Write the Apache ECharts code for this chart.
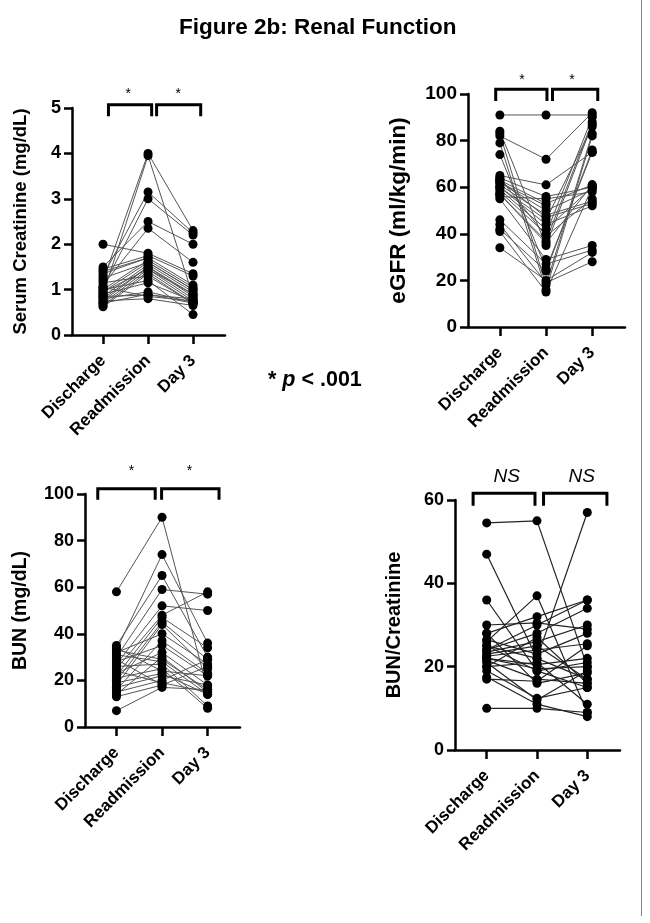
<!DOCTYPE html>
<html><head><meta charset="utf-8">
<script src="https://cdn.jsdelivr.net/npm/echarts@6/dist/echarts.min.js"></script>
<style>html,body{margin:0;padding:0;background:#fff}#c{width:650px;height:923px}</style>
</head><body><div id="c"></div>
<script>
// ---------- data ----------
const categories = ['Discharge', 'Readmission', 'Day 3'];

// Serum creatinine (mg/dL), one entry per patient
const creatDischarge   = [1.2, 0.9, 1.3, 1.05, 1.5, 1.1, 2.0, 1.45, 1.4, 1.0, 0.95, 0.85, 0.8, 0.75, 0.7, 0.65, 0.62, 1.15, 1.0, 0.9, 0.8, 0.7, 1.25, 0.85, 1.05, 0.75, 1.35, 0.95];
const creatReadmission = [4.0, 3.95, 3.15, 3.0, 2.5, 2.35, 1.8, 1.75, 1.7, 1.65, 1.6, 1.55, 1.5, 1.5, 1.45, 1.4, 1.35, 1.3, 1.2, 1.15, 0.95, 0.9, 1.6, 0.88, 0.85, 0.8, 1.7, 1.45];
const creatDay3        = [2.3, 0.85, 2.25, 2.2, 2.0, 1.6, 1.35, 1.3, 1.1, 1.05, 1.0, 0.95, 0.9, 0.85, 0.8, 0.75, 0.7, 0.7, 0.45, 0.75, 0.72, 0.7, 1.0, 0.8, 0.75, 0.65, null, 0.9];

// eGFR (ml/kg/min)
const egfrDischarge   = [91, 82, 84, 83, 79, 74, 65, 64, 63, 62, 61, 60, 59, 58, 57, 56, 55, 46, 44, 42, 41, 34, 62, 60, 64, 57, 63];
const egfrReadmission = [91, 72, 35, 18, 16, 25, 61, 56, 53, 50, 48, 44, 42, 40, 37, 55, 29, 27, 19, 24, 15, 20, 52, 46, 39, 36, 47];
const egfrDay3        = [91, 92, 87, 83, 82, 75, 75, 60, 61, 59, 54, 52, 60, 90, 88, 58, 35, 33, 28, 76, 60, 32, null, 86, 55, 61, 53];

// BUN (mg/dL)
const bunDischarge   = [58, 33, 35, 30, 27, 25, 22, 20, 18, 32, 16, 28, 23, 14, 33, 31, 26, 21, 19, 17, 15, 7, 24, 13, 34, 29];
const bunReadmission = [90, 74, 65, 59, 52, 48, 47, 45, 44, 40, 37, 35, 32, 30, 29, 28, 27, 25, 23, 22, 20, 17, 19, 18, 24, 18];
const bunDay3        = [16, 36, 30, 57, 50, 58, 34, 29, 25, 27, 23, 22, 18, 15, 16, 14, 9, 8, 14, 18, 29, 16, 15, 26, 22, null];

// BUN / Creatinine
const ratioDischarge   = [54.5, 47, 36, 30, 28, 26, 25, 24, 23.5, 22.5, 22, 21, 20, 17.5, 17, 10, 25, 23, 20, 24, 21.5, 26.5, 19, 22, 28];
const ratioReadmission = [55, 22, 19, 30.5, 32, 37, 22, 28, 26, 24, 20.5, 12, 27, 11, 16.5, 10, 19, 25, 21, 30, 17, 23, 12.4, 19.5, 16];
const ratioDay3        = [20, 17, 15, 29, 36, 9, 57, 34, 30, 25.5, 22, 19, 16, 8, 25, 9, 21, 17, 11, 36, 16, 28, 15, 20, 18.5];

const yTicksCreat = [0, 1, 2, 3, 4, 5];
const yTicksEgfr  = [0, 20, 40, 60, 80, 100];
const yTicksBun   = [0, 20, 40, 60, 80, 100];
const yTicksRatio = [0, 20, 40, 60];

const sigCreat = ['*', '*'];
const sigEgfr  = ['*', '*'];
const sigBun   = ['*', '*'];
const sigRatio = ['NS', 'NS'];

// ---------- layout ----------
const FONT = '"Liberation Sans", Arial, sans-serif';
const panels = [
  { name: 'Serum Creatinine (mg/dL)', d: creatDischarge, r: creatReadmission, t: creatDay3, ticks: yTicksCreat, sig: sigCreat,
    grid: { left: 72, top: 108, width: 153, height: 227 }, xMin: -0.69, xMax: 2.71, nameGap: 42, nameSize: 18.5, tickSize: 18,
    br: [[0.12, 1.08], [1.19, 2.17]], bTop: 5.07, bBot: 4.82, sx: [0.56, 1.67], sy: 5.3, lineColor: '#555', lw: 1 },
  { name: 'eGFR (ml/kg/min)', d: egfrDischarge, r: egfrReadmission, t: egfrDay3, ticks: yTicksEgfr, sig: sigEgfr,
    grid: { left: 468, top: 94, width: 157, height: 233 }, xMin: -0.69, xMax: 2.71, nameGap: 58, nameSize: 22.5, tickSize: 19,
    br: [[-0.09, 1.02], [1.14, 2.12]], bTop: 102, bBot: 97, sx: [0.48, 1.56], sy: 106, lineColor: '#555', lw: 1 },
  { name: 'BUN (mg/dL)', d: bunDischarge, r: bunReadmission, t: bunDay3, ticks: yTicksBun, sig: sigBun,
    grid: { left: 85, top: 494, width: 155, height: 233 }, xMin: -0.69, xMax: 2.71, nameGap: 54, nameSize: 19.5, tickSize: 18,
    br: [[-0.41, 0.85], [0.99, 2.25]], bTop: 102.3, bBot: 97.5, sx: [0.33, 1.6], sy: 110, lineColor: '#555', lw: 1 },
  { name: 'BUN/Creatinine', d: ratioDischarge, r: ratioReadmission, t: ratioDay3, ticks: yTicksRatio, sig: sigRatio,
    grid: { left: 455, top: 500, width: 165, height: 250 }, xMin: -0.63, xMax: 2.65, nameGap: 51, nameSize: 20, tickSize: 18,
    br: [[-0.27, 0.96], [1.13, 2.39]], bTop: 61.6, bBot: 58.6, sx: [0.4, 1.89], sy: 65.5, lineColor: '#222', lw: 1.2, ns: true }
];

const grids = [], xAxes = [], yAxes = [], series = [];
panels.forEach((p, i) => {
  grids.push(Object.assign({ containLabel: false }, p.grid));
  xAxes.push({
    type: 'value', gridIndex: i, min: p.xMin, max: p.xMax,
    splitLine: { show: false },
    axisLine: { show: true, onZero: false, lineStyle: { color: '#000', width: 2.5 } },
    axisTick: { show: true, customValues: [0, 1, 2], length: 9, lineStyle: { color: '#000', width: 2.5 } },
    axisLabel: { show: true, customValues: [0, 1, 2], formatter: v => categories[Math.round(v)], rotate: 45,
      margin: 23, fontSize: 17, fontWeight: 'bold', color: '#000', fontFamily: FONT }
  });
  const tks = p.ticks;
  yAxes.push({
    type: 'value', gridIndex: i, min: tks[0], max: tks[tks.length - 1], interval: tks[1] - tks[0],
    name: p.name, nameLocation: 'middle', nameGap: p.nameGap,
    nameTextStyle: { fontSize: p.nameSize, fontWeight: 'bold', color: '#000', fontFamily: FONT },
    splitLine: { show: false },
    axisLine: { show: true, onZero: false, lineStyle: { color: '#000', width: 2.5 } },
    axisTick: { show: true, length: 8, lineStyle: { color: '#000', width: 2.5 } },
    axisLabel: { fontSize: p.tickSize, fontWeight: 'bold', color: '#000', fontFamily: FONT, margin: 11 }
  });
  // connecting lines per patient
  const pts = [];
  p.d.forEach((dv, k) => {
    const row = [[0, dv], [1, p.r[k]]];
    if (p.t[k] !== null && p.t[k] !== undefined) row.push([2, p.t[k]]);
    row.forEach(q => pts.push(q));
    series.push({ type: 'line', xAxisIndex: i, yAxisIndex: i, data: row, showSymbol: false, silent: true,
      animation: false, lineStyle: { color: p.lineColor, width: p.lw }, z: 2 });
  });
  // points
  series.push({ type: 'scatter', xAxisIndex: i, yAxisIndex: i, data: pts, symbol: 'circle', symbolSize: 9,
    itemStyle: { color: '#000', opacity: 1 }, animation: false, silent: true, z: 3 });
  // brackets
  p.br.forEach(b => {
    series.push({ type: 'line', xAxisIndex: i, yAxisIndex: i, clip: false, showSymbol: false, silent: true, animation: false,
      data: [[b[0], p.bBot], [b[0], p.bTop], [b[1], p.bTop], [b[1], p.bBot]],
      lineStyle: { color: '#000', width: 3, join: 'miter', cap: 'butt' }, z: 4 });
  });
  // significance labels
  series.push({ type: 'scatter', xAxisIndex: i, yAxisIndex: i, clip: false, silent: true, animation: false,
    symbolSize: 1, itemStyle: { color: 'rgba(0,0,0,0)', opacity: 1 },
    data: p.sx.map((x, k) => ({ value: [x, p.sy], name: p.sig[k] })),
    label: { show: true, position: 'inside', formatter: q => q.name, color: '#000', opacity: 1, fontFamily: FONT,
      fontSize: p.ns ? 19 : 14, fontStyle: p.ns ? 'italic' : 'normal', fontWeight: 'normal' }, z: 5 });
});

const chart = echarts.init(document.getElementById('c'), null, { renderer: 'canvas' });
chart.setOption({
  backgroundColor: '#fff',
  animation: false,
  grid: grids, xAxis: xAxes, yAxis: yAxes, series: series,
  graphic: [
    { type: 'text', x: 179, y: 16, style: { text: 'Figure 2b: Renal Function', fontSize: 22.5, fontWeight: 'bold', fill: '#000', fontFamily: FONT } },
    { type: 'text', x: 268, y: 369, style: { text: '{a|* }{b|p}{a| < .001}', rich: {
        a: { fontSize: 21.5, fontWeight: 'bold', fill: '#000', fontFamily: FONT },
        b: { fontSize: 21.5, fontWeight: 'bold', fontStyle: 'italic', fill: '#000', fontFamily: FONT } } } },
    { type: 'line', shape: { x1: 641.5, y1: 0, x2: 641.5, y2: 916 }, style: { stroke: '#888', lineWidth: 1 } }
  ]
});
</script>
</body></html>
